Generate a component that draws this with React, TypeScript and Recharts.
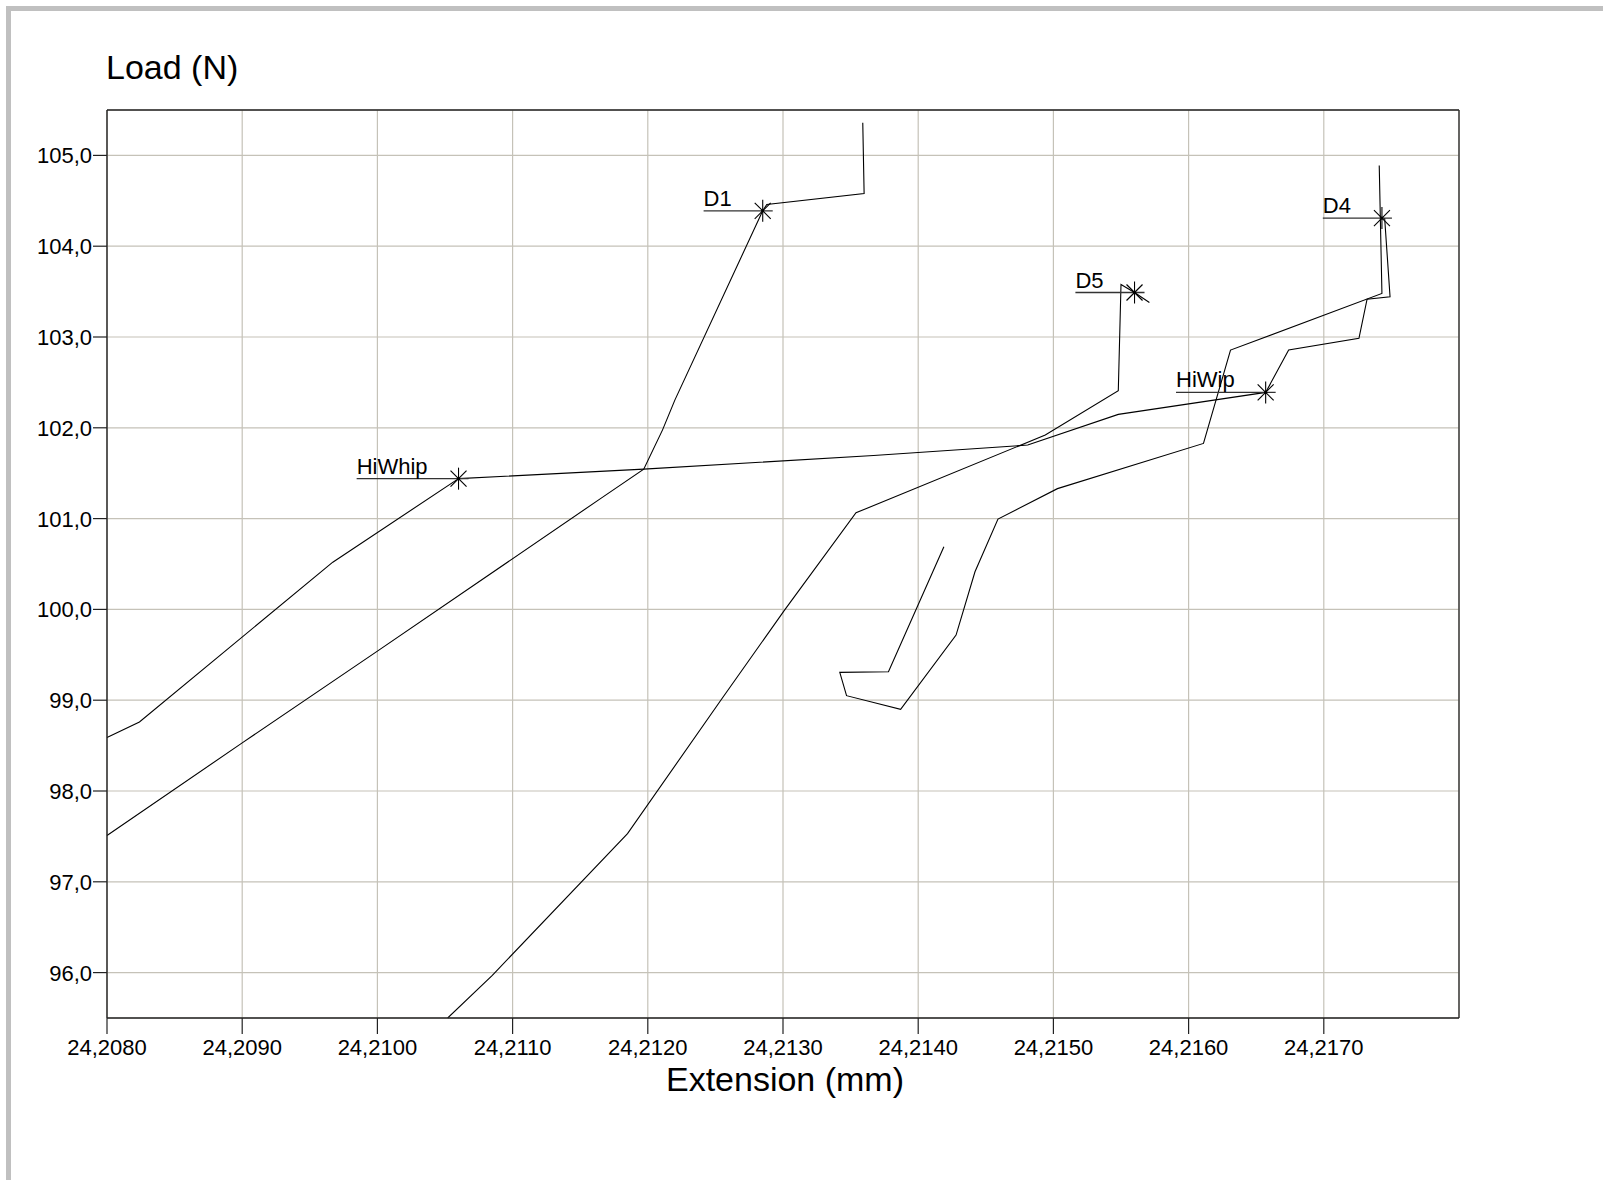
import React from 'react'
import {
  ComposedChart, Line, Scatter, XAxis, YAxis, CartesianGrid, ReferenceLine,
} from 'recharts'

const FONT = '"Liberation Sans", Arial, sans-serif'

const extTicks = [24.208, 24.209, 24.21, 24.211, 24.212, 24.213, 24.214, 24.215, 24.216, 24.217]
const loadTicks = [96, 97, 98, 99, 100, 101, 102, 103, 104, 105]

// D1 run
const d1Ext = [24.208, 24.209, 24.21, 24.21165, 24.21197, 24.21211, 24.2122, 24.21285, 24.21288, 24.2136, 24.21359]
const d1Load = [97.51, 98.53, 99.54, 101.22, 101.545, 101.98, 102.305, 104.39, 104.46, 104.58, 105.36]

// HiWhip run
const hiWhipExt = [24.208, 24.20824, 24.20967, 24.2106]
const hiWhipLoad = [98.59, 98.76, 100.52, 101.44]

// HiWip run
const hiWipExt = [24.2106, 24.21197, 24.21367, 24.21481, 24.21548, 24.21657, 24.21674, 24.21726, 24.21732, 24.21749, 24.21745]
const hiWipLoad = [101.44, 101.545, 101.695, 101.81, 102.148, 102.39, 102.856, 102.985, 103.417, 103.443, 104.31]

// D5 run
const d5Ext = [24.21052, 24.21085, 24.21185, 24.21254, 24.21301, 24.21354, 24.21494, 24.21548, 24.2155, 24.2156, 24.21571]
const d5Load = [95.5, 95.97, 97.53, 99.0, 99.99, 101.064, 101.92, 102.408, 103.579, 103.49, 103.38]

// D4 run
const d4Ext = [24.21419, 24.21378, 24.21342, 24.21347, 24.21387, 24.21428, 24.21442, 24.21459, 24.21503, 24.21611, 24.21631, 24.21743, 24.21741]
const d4Load = [100.69, 99.313, 99.306, 99.05, 98.9, 99.717, 100.414, 100.995, 101.33, 101.828, 102.856, 103.48, 104.89]

// break markers
const markerNames = ['HiWhip', 'D1', 'D5', 'HiWip', 'D4']
const markerExt = [24.2106, 24.21285, 24.2156, 24.21657, 24.21743]
const markerLoad = [101.44, 104.39, 103.49, 102.39, 104.31]

const toPoints = (xs: number[], ys: number[]) => xs.map((x, i) => ({ x, y: ys[i] }))

const runs = [
  toPoints(d1Ext, d1Load),
  toPoints(hiWhipExt, hiWhipLoad),
  toPoints(hiWipExt, hiWipLoad),
  toPoints(d5Ext, d5Load),
  toPoints(d4Ext, d4Load),
]

const markers = markerNames.map((name, i) => ({ name, x: markerExt[i], y: markerLoad[i] }))

const charW: Record<string, number> = { D: 0.722, H: 0.722, W: 0.944, i: 0.222, h: 0.556, p: 0.556 }
const textWidth = (s: string, size: number) =>
  s.split('').reduce((w, c) => w + (charW[c] ?? 0.556), 0) * size

function Marker(props: any) {
  const { cx, cy, payload } = props
  const w = textWidth(payload.name, 22)
  const x0 = cx - 31 - w
  return (
    <g>
      <line x1={x0} y1={cy} x2={cx + 10} y2={cy} stroke="#333" strokeWidth={1.3} />
      <line x1={cx} y1={cy - 11} x2={cx} y2={cy + 11} stroke="#000" strokeWidth={1.1} />
      <line x1={cx - 8} y1={cy - 8} x2={cx + 8} y2={cy + 8} stroke="#000" strokeWidth={1.1} />
      <line x1={cx - 8} y1={cy + 8} x2={cx + 8} y2={cy - 8} stroke="#000" strokeWidth={1.1} />
      <circle cx={cx} cy={cy} r={1.6} fill="#000" />
      <text x={x0} y={cy - 5} fontSize={22} fontFamily={FONT} fill="#000">{payload.name}</text>
    </g>
  )
}

const fmtExt = (v: number) => v.toFixed(4).replace('.', ',')
const fmtLoad = (v: number) => v.toFixed(1).replace('.', ',')

function XTick(props: any) {
  const { x, y, payload } = props
  return (
    <text x={x} y={y} dy={16} textAnchor="middle" fontSize={22} fontFamily={FONT} fill="#000">
      {fmtExt(payload.value)}
    </text>
  )
}

function YTick(props: any) {
  const { x, y, payload } = props
  return (
    <text x={x} y={y} dy={8} textAnchor="end" fontSize={22} fontFamily={FONT} fill="#000">
      {fmtLoad(payload.value)}
    </text>
  )
}

export default function App() {
  return (
    <div style={{ position: 'absolute', left: 0, top: 0, width: 1603, height: 1180, background: '#fff', overflow: 'hidden' }}>
      <div
        style={{
          position: 'absolute', left: 6, top: 6, width: 1603, height: 1180,
          borderLeft: '5px solid #c0c0c0', borderTop: '5px solid #c0c0c0',
        }}
      />
      <div
        style={{
          position: 'absolute', left: 106, top: 50, fontFamily: FONT, fontSize: 34,
          lineHeight: '34px', color: '#000', whiteSpace: 'nowrap',
        }}
      >
        Load (N)
      </div>
      <div
        style={{
          position: 'absolute', left: 585, width: 400, top: 1062, textAlign: 'center',
          fontFamily: FONT, fontSize: 34, lineHeight: '34px', color: '#000', whiteSpace: 'nowrap',
        }}
      >
        Extension (mm)
      </div>
      <div style={{ position: 'absolute', left: 0, top: 0 }}>
        <ComposedChart width={1603} height={1180} margin={{ top: 110, right: 144, bottom: 102, left: 27 }}>
          <CartesianGrid stroke="#c5c2b8" strokeWidth={1.2} />
          <XAxis
            dataKey="x"
            type="number"
            domain={[24.208, 24.218]}
            ticks={extTicks}
            interval={0}
            height={60}
            tickSize={16}
            tickMargin={5}
            tick={<XTick />}
            axisLine={{ stroke: '#222', strokeWidth: 1.4 }}
            tickLine={{ stroke: '#222', strokeWidth: 1.2 }}
            allowDecimals
          />
          <YAxis
            dataKey="y"
            type="number"
            domain={[95.5, 105.5]}
            ticks={loadTicks}
            interval={0}
            width={80}
            tickSize={14}
            tickMargin={1}
            tick={<YTick />}
            axisLine={{ stroke: '#222', strokeWidth: 1.4 }}
            tickLine={{ stroke: '#222', strokeWidth: 1.2 }}
          />
          <ReferenceLine y={105.5} stroke="#222" strokeWidth={1.4} />
          <ReferenceLine x={24.218} stroke="#333" strokeWidth={1.4} />
          {runs.map((data, i) => (
            <Line
              key={i}
              data={data}
              dataKey="y"
              type="linear"
              stroke="#000"
              strokeWidth={1.1}
              dot={false}
              activeDot={false}
              isAnimationActive={false}
            />
          ))}
          <Scatter
            data={markers}
            dataKey="y"
            shape={(p: any) => <Marker {...p} />}
            isAnimationActive={false}
          />
        </ComposedChart>
      </div>
    </div>
  )
}
